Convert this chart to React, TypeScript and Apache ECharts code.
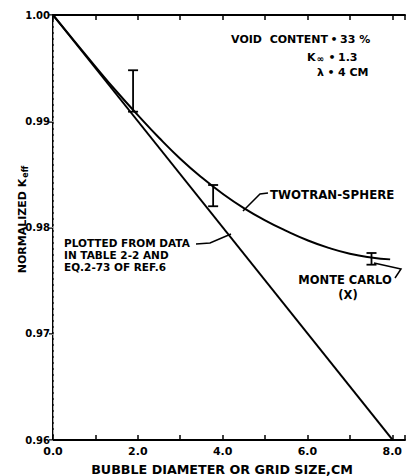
import React, { useEffect, useRef } from "react";
import * as echarts from "echarts";

// ---- data ----
const xTickValues = [0, 2, 4, 6, 8];
const xTickLabels = ["0.0", "2.0", "4.0", "6.0", "8.0"];
const yTickValues = [0.96, 0.97, 0.98, 0.99, 1.0];
const yTickLabels = ["0.96", "0.97", "0.98", "0.99", "1.00"];

// straight line "plotted from data in Table 2-2 and Eq.2-73 of Ref.6"
const straightX = [0, 8.07];
const straightY = [1.0, 0.9597];

// TWOTRAN-SPHERE curve
const twotranX = [0, 0.5, 1.0, 1.5, 2.0, 2.5, 3.0, 3.5, 4.0, 4.5, 5.0, 5.5, 6.0, 6.5, 7.0, 7.5, 7.95];
const twotranY = [1.0, 0.99756, 0.99515, 0.9928, 0.99058, 0.98845, 0.98648, 0.98473, 0.98318, 0.98183, 0.98068, 0.97968, 0.9788, 0.97808, 0.97753, 0.97718, 0.977];

// Monte Carlo error bars
const errX = [1.888, 3.776, 7.51];
const errLow = [0.9909, 0.982, 0.9765];
const errHigh = [0.9948, 0.984, 0.9776];

const FONT = "DejaVu Sans";

export default function App() {
  const ref = useRef<HTMLDivElement>(null);

  useEffect(() => {
    if (!ref.current) return;
    const chart = echarts.init(ref.current, null, { renderer: "svg" });

    const axisText = { color: "#000", fontWeight: "bold" as const, fontFamily: FONT };

    const option: any = {
      animation: false,
      backgroundColor: "#fff",
      grid: { left: 53, right: 2, top: 15, bottom: 36, containLabel: false, outerBoundsMode: "none" },
      xAxis: [
        {
          type: "value",
          position: "bottom",
          min: 0,
          max: 8.3,
          interval: 1,
          axisLine: { lineStyle: { color: "#000", width: 2 } },
          axisTick: { inside: true, length: 5, lineStyle: { color: "#000", width: 1.5 } },
          axisLabel: {
            ...axisText,
            fontSize: 11,
            margin: 6,
            formatter: (v: number) => {
              const i = xTickValues.findIndex((t) => Math.abs(t - v) < 1e-6);
              return i >= 0 ? xTickLabels[i] : "";
            },
          },
          splitLine: { show: false },
          name: "BUBBLE DIAMETER OR GRID SIZE,CM",
          nameLocation: "middle",
          nameGap: 23,
          nameMoveOverlap: false,
          nameTextStyle: { ...axisText, fontSize: 12.7, padding: [0, 14, 0, 0] },
        },
        {
          type: "value",
          position: "top",
          min: 0,
          max: 8.3,
          interval: 1,
          axisLine: { lineStyle: { color: "#000", width: 2 } },
          axisTick: { inside: true, length: 5, lineStyle: { color: "#000", width: 1.5 } },
          axisLabel: { show: false },
          splitLine: { show: false },
        },
      ],
      yAxis: [
        {
          type: "value",
          position: "left",
          min: 0.96,
          max: 1.0,
          interval: 0.01,
          axisLine: { lineStyle: { color: "#000", width: 2 } },
          axisTick: { inside: false, length: 4, lineStyle: { color: "#000", width: 1.5 } },
          axisLabel: {
            ...axisText,
            fontSize: 10,
            margin: 3,
            formatter: (v: number) => {
              const i = yTickValues.findIndex((t) => Math.abs(t - v) < 1e-6);
              return i >= 0 ? yTickLabels[i] : "";
            },
          },
          splitLine: { show: false },
          name: "NORMALIZED K{sub|eff}",
          nameLocation: "middle",
          nameGap: 24,
          nameMoveOverlap: false,
          nameTextStyle: {
            ...axisText,
            fontSize: 11,
            padding: [0, 0, 0, 16],
            rich: {
              sub: { ...axisText, fontSize: 8, padding: [5, 0, 0, 1] },
            },
          },
        },
        {
          type: "value",
          position: "right",
          min: 0.96,
          max: 1.0,
          interval: 0.01,
          axisLine: { lineStyle: { color: "#aaa", width: 1, type: "dashed" } },
          axisTick: { inside: true, length: 4, lineStyle: { color: "#888", width: 1 } },
          axisLabel: { show: false },
          splitLine: { show: false },
        },
      ],
      series: [
        {
          name: "Table 2-2 / Eq. 2-73",
          type: "line",
          data: straightX.map((x, i) => [x, straightY[i]]),
          symbol: "none",
          lineStyle: { color: "#000", width: 2 },
          silent: true,
        },
        {
          name: "TWOTRAN-SPHERE",
          type: "line",
          data: twotranX.map((x, i) => [x, twotranY[i]]),
          symbol: "none",
          smooth: 0.5,
          lineStyle: { color: "#000", width: 2 },
          silent: true,
        },
        {
          name: "MONTE CARLO",
          type: "custom",
          data: errX.map((x, i) => [x, errLow[i], errHigh[i]]),
          encode: { x: 0, y: [1, 2] },
          renderItem: (params: any, api: any) => {
            const x = api.value(0);
            const lo = api.coord([x, api.value(1)]);
            const hi = api.coord([x, api.value(2)]);
            const w = 5;
            const st = { stroke: "#000", lineWidth: 1.8 };
            return {
              type: "group",
              children: [
                { type: "line", shape: { x1: lo[0], y1: lo[1], x2: hi[0], y2: hi[1] }, style: st },
                { type: "line", shape: { x1: lo[0] - w, y1: lo[1], x2: lo[0] + w, y2: lo[1] }, style: st },
                { type: "line", shape: { x1: hi[0] - w, y1: hi[1], x2: hi[0] + w, y2: hi[1] }, style: st },
              ],
            };
          },
          silent: true,
        },
      ],
      graphic: [
        // parameter block
        { type: "text", x: 328, y: 39, style: { text: "VOID  CONTENT", align: "right", verticalAlign: "middle", font: `bold 11px ${FONT}`, fill: "#000" } },
        { type: "text", x: 334, y: 39, style: { text: "•", align: "center", verticalAlign: "middle", font: `bold 11px ${FONT}`, fill: "#000" } },
        { type: "text", x: 340, y: 39, style: { text: "33 %", align: "left", verticalAlign: "middle", font: `bold 11px ${FONT}`, fill: "#000" } },
        {
          type: "text", x: 324, y: 57,
          style: {
            text: "K{s|∞}", align: "right", verticalAlign: "middle", font: `bold 11px ${FONT}`, fill: "#000",
            rich: { s: { font: `bold 9px ${FONT}`, fill: "#000", padding: [4, 0, 0, 1] } },
          },
        },
        { type: "text", x: 332, y: 57, style: { text: "•", align: "center", verticalAlign: "middle", font: `bold 11px ${FONT}`, fill: "#000" } },
        { type: "text", x: 338, y: 57, style: { text: "1.3", align: "left", verticalAlign: "middle", font: `bold 11px ${FONT}`, fill: "#000" } },
        { type: "text", x: 324, y: 72, style: { text: "λ", align: "right", verticalAlign: "middle", font: `bold 11px ${FONT}`, fill: "#000" } },
        { type: "text", x: 331, y: 72, style: { text: "•", align: "center", verticalAlign: "middle", font: `bold 11px ${FONT}`, fill: "#000" } },
        { type: "text", x: 338, y: 72, style: { text: "4 CM", align: "left", verticalAlign: "middle", font: `bold 11px ${FONT}`, fill: "#000" } },

        // TWOTRAN-SPHERE label + leader
        { type: "text", x: 270, y: 195, style: { text: "TWOTRAN-SPHERE", align: "left", verticalAlign: "middle", font: `bold 11.8px ${FONT}`, fill: "#000" } },
        { type: "polyline", shape: { points: [[243, 211], [260, 194], [268, 193]] }, style: { stroke: "#000", lineWidth: 1.5, fill: "none" } },

        // Plotted-from-data label + leader
        {
          type: "text", x: 64, y: 237,
          style: {
            text: "PLOTTED FROM DATA\nIN TABLE 2-2 AND\nEQ.2-73 OF REF.6",
            align: "left", verticalAlign: "top", lineHeight: 12,
            font: `bold 10.5px ${FONT}`, fill: "#000",
          },
        },
        { type: "polyline", shape: { points: [[196, 244], [210, 243], [231, 234]] }, style: { stroke: "#000", lineWidth: 1.5, fill: "none" } },

        // Monte Carlo label + leader
        { type: "text", x: 345, y: 280, style: { text: "MONTE CARLO", align: "center", verticalAlign: "middle", font: `bold 11.5px ${FONT}`, fill: "#000" } },
        { type: "text", x: 348, y: 295, style: { text: "(X)", align: "center", verticalAlign: "middle", font: `bold 11.5px ${FONT}`, fill: "#000" } },
        { type: "polyline", shape: { points: [[374, 263], [401, 269], [395, 278]] }, style: { stroke: "#000", lineWidth: 1.5, fill: "none" } },
      ],
    };

    chart.setOption(option);
    return () => chart.dispose();
  }, []);

  return <div ref={ref} style={{ width: 407, height: 476, position: "absolute", left: 0, top: 0 }} />;
}
